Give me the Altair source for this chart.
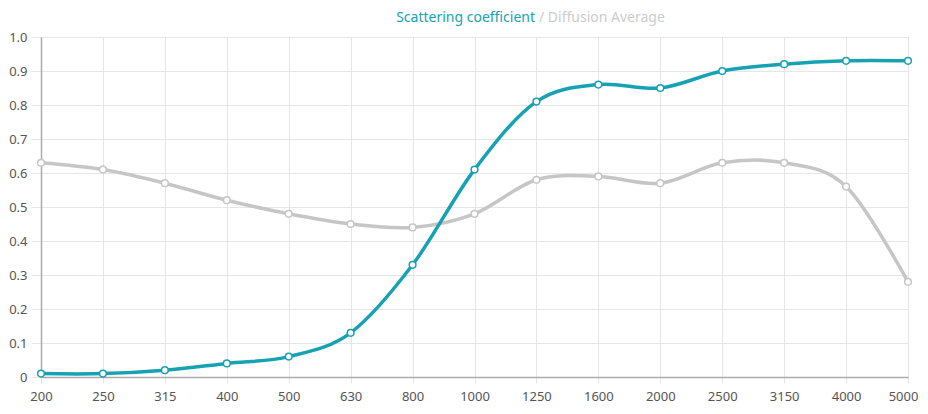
import altair as alt
import pandas as pd

freqs = ["200", "250", "315", "400", "500", "630", "800", "1000", "1250",
         "1600", "2000", "2500", "3150", "4000", "5000"]
scattering = [0.01, 0.01, 0.02, 0.04, 0.06, 0.13, 0.33, 0.61, 0.81,
              0.86, 0.85, 0.90, 0.92, 0.93, 0.93]
diffusion = [0.63, 0.61, 0.57, 0.52, 0.48, 0.45, 0.44, 0.48, 0.58,
             0.59, 0.57, 0.63, 0.63, 0.56, 0.28]
series_names = ["Diffusion Average", "Scattering coefficient"]
series_colors = ["#c6c6c6", "#17a2b3"]

rows = []
for f, v in zip(freqs, diffusion):
    rows.append({"freq": f, "value": v, "series": series_names[0], "order": 0})
for f, v in zip(freqs, scattering):
    rows.append({"freq": f, "value": v, "series": series_names[1], "order": 1})
df = pd.DataFrame(rows)

FONT = "Noto Sans"

x = alt.X("freq:N", sort=freqs, title=None,
          scale=alt.Scale(paddingOuter=0, paddingInner=0, padding=0),
          axis=alt.Axis(labelAngle=0, labelFont=FONT, labelFontSize=13,
                        labelColor="#555555", labelPadding=7,
                        labelOffset={"condition": {"test": "datum.label == '5000'", "value": -5},
                                     "value": 0},
                        grid=True, gridColor="#e6e6e6", gridWidth=1,
                        tickColor="#e6e6e6", tickSize=6,
                        domain=True, domainColor="#aaaaaa", domainWidth=1.5,
                        bandPosition=0))
y = alt.Y("value:Q", title=None,
          scale=alt.Scale(domain=[0, 1], nice=False),
          axis=alt.Axis(values=[0, 0.1, 0.2, 0.3, 0.4, 0.5, 0.6, 0.7, 0.8, 0.9, 1.0],
                        labelExpr="datum.value == 0 ? '0' : format(datum.value, '.1f')",
                        labelFont=FONT, labelFontSize=13, labelColor="#555555",
                        labelPadding=4,
                        grid=True, gridColor="#e6e6e6", gridWidth=1,
                        tickColor="#e6e6e6", tickSize=10,
                        domain=True, domainColor="#aaaaaa", domainWidth=1.5))
color = alt.Color("series:N", scale=alt.Scale(domain=series_names, range=series_colors),
                  legend=None)

base = alt.Chart(df)

lines = base.mark_line(interpolate="cardinal", strokeWidth=3.5).encode(
    x=x, y=y, color=color, detail="series:N", order=alt.Order("order:Q"))

points = base.mark_point(filled=False, fill="white", fillOpacity=1, size=45,
                         strokeWidth=1.5, opacity=1).encode(
    x=x, y=y, color=color)

title_df = pd.DataFrame({"t": [series_names[1]], "u": ["/ " + series_names[0]]})
t1 = alt.Chart(title_df).mark_text(font=FONT, fontSize=14, align="right",
                                   baseline="alphabetic", color=series_colors[1]).encode(
    text="t:N", x=alt.value(494), y=alt.value(-15))
t2 = alt.Chart(title_df).mark_text(font=FONT, fontSize=14, align="left",
                                   baseline="alphabetic", color="#cccccc").encode(
    text="u:N", x=alt.value(498), y=alt.value(-15))

chart = alt.layer(lines, points, t1, t2).properties(
    width=867, height=340,
    autosize=alt.AutoSizeParams(type="none"),
    padding={"left": 33, "top": 29, "right": 12, "bottom": 30},
).configure_view(stroke=None).configure(background="white")

chart.save("out.html", embed_options={"renderer": "svg", "actions": False})
